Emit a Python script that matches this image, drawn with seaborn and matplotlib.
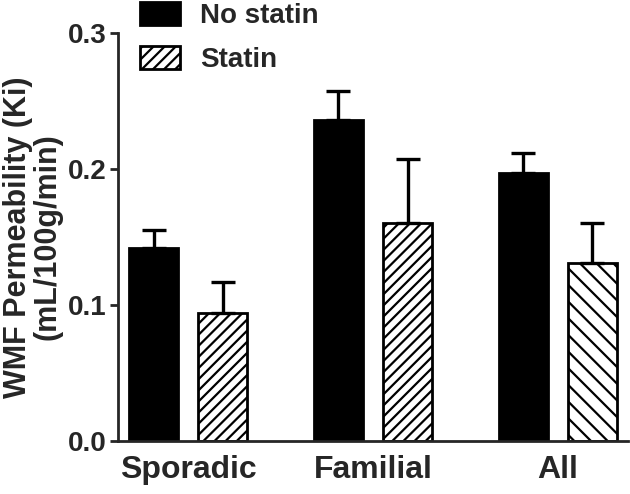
import matplotlib
matplotlib.use("Agg")
import matplotlib.pyplot as plt
import pandas as pd
import seaborn as sns
from matplotlib.patches import Patch

# Data
groups = ["Sporadic", "Familial", "All"]
no_statin = [0.142, 0.236, 0.197]
no_statin_err = [0.013, 0.021, 0.015]
statin = [0.094, 0.160, 0.131]
statin_err = [0.023, 0.047, 0.029]
conditions = ["No statin", "Statin"]

df = pd.DataFrame({
    "group": groups * 2,
    "condition": [conditions[0]] * 3 + [conditions[1]] * 3,
    "value": no_statin + statin,
})

sns.set_style("ticks")
plt.rcParams["font.family"] = ["Liberation Sans", "DejaVu Sans"]
plt.rcParams["font.weight"] = "bold"
plt.rcParams["hatch.linewidth"] = 1.6

fig = plt.figure(figsize=(6.3, 4.94), dpi=100)
ax = fig.add_axes([0.1873, 0.1073, 0.8095, 0.8259])

sns.barplot(data=df, x="group", y="value", hue="condition", order=groups,
            hue_order=conditions, palette={"No statin": "black", "Statin": "white"},
            width=0.75, gap=0.29, edgecolor="black", linewidth=2,
            errorbar=None, legend=False, ax=ax)

# hatching on the statin bars (last group leans the other way)
hatches = ["///", "///", "\\\\"]
for bar, h in zip(ax.containers[1], hatches):
    bar.set_hatch(h)

# upper-only error bars
for cont, errs in zip(ax.containers, [no_statin_err, statin_err]):
    xs = [b.get_x() + b.get_width() / 2 for b in cont]
    ys = [b.get_height() for b in cont]
    ax.errorbar(xs, ys, yerr=[[0] * len(errs), errs], fmt="none",
                ecolor="black", elinewidth=2.4, capsize=8.3, capthick=2.4, zorder=1)

ax.set_ylim(0, 0.3)
ax.set_xlim(-0.38, 2.38)
ax.set_yticks([0.0, 0.1, 0.2, 0.3])
ax.set_yticklabels(["0.0", "0.1", "0.2", "0.3"])
ax.set_xlabel("")
ax.set_ylabel("WMF Permeability (Ki)\n(mL/100g/min)", fontsize=22,
              fontweight="bold", linespacing=1.0)
ax.yaxis.set_label_coords(-0.108, 0.5)

sns.despine(ax=ax)
for side in ["left", "bottom"]:
    ax.spines[side].set_linewidth(2)
ax.tick_params(axis="y", length=6, width=2, pad=2, labelsize=20)
ax.tick_params(axis="x", length=0, pad=10, labelsize=23)

handles = [Patch(facecolor="black", edgecolor="black", linewidth=2),
           Patch(facecolor="white", edgecolor="black", linewidth=2, hatch="///")]
fig.legend(handles, conditions, loc="upper left",
           bbox_to_anchor=(140 / 630, 1 - 2 / 494), frameon=False,
           fontsize=20, handlelength=1.45, handleheight=0.9,
           handletextpad=0.72, labelspacing=0.6, borderpad=0, borderaxespad=0)

fig.savefig("out.png", dpi=100)
